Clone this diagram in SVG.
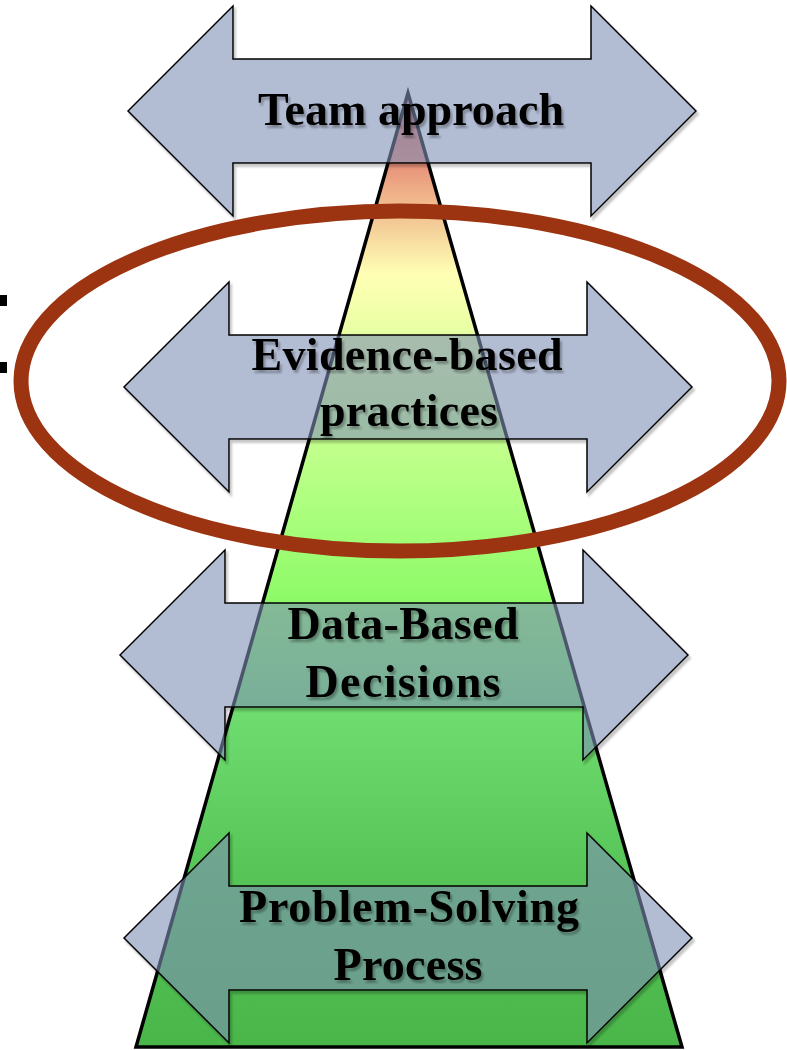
<svg xmlns="http://www.w3.org/2000/svg" xmlns:xlink="http://www.w3.org/1999/xlink" width="787" height="1050" viewBox="0 0 787 1050">
  <defs>
    <!-- pyramid fill: red tip through yellow into green -->
    <linearGradient id="pyramidFill" x1="0" y1="0" x2="0" y2="1">
      <stop offset="0" stop-color="#DC6A6A"/>
      <stop offset="0.077" stop-color="#E8937A"/>
      <stop offset="0.104" stop-color="#EFB088"/>
      <stop offset="0.14" stop-color="#F4CE98"/>
      <stop offset="0.166" stop-color="#FAE8A8"/>
      <stop offset="0.19" stop-color="#FFFFB4"/>
      <stop offset="0.25" stop-color="#E8FFA4"/>
      <stop offset="0.417" stop-color="#B2FF82"/>
      <stop offset="0.53" stop-color="#8EFA68"/>
      <stop offset="0.65" stop-color="#6EDC6E"/>
      <stop offset="0.82" stop-color="#56C456"/>
      <stop offset="1" stop-color="#4AB64A"/>
    </linearGradient>

    <!-- soft shadow that only shows outside the arrow body -->
    <filter id="arrowShadow" x="-3%" y="-3%" width="108%" height="110%" color-interpolation-filters="sRGB">
      <feComponentTransfer in="SourceAlpha" result="solid">
        <feFuncA type="linear" slope="20"/>
      </feComponentTransfer>
      <feOffset in="solid" dx="2" dy="3" result="off"/>
      <feGaussianBlur in="off" stdDeviation="1.2" result="blur"/>
      <feComposite in="blur" in2="solid" operator="out" result="ring"/>
      <feFlood flood-color="#000" flood-opacity="0.22"/>
      <feComposite in2="ring" operator="in" result="shadow"/>
      <feMerge>
        <feMergeNode in="shadow"/>
        <feMergeNode in="SourceGraphic"/>
      </feMerge>
    </filter>

    <filter id="textShadow" x="-5%" y="-20%" width="110%" height="150%">
      <feDropShadow dx="2" dy="3" stdDeviation="1" flood-color="#000" flood-opacity="0.3"/>
    </filter>

    <!-- double-headed block arrow, 568 x 210 -->
    <path id="blockArrow" d="M0,105 L105,0 L105,53 L463,53 L463,0 L568,105 L463,210 L463,157 L105,157 L105,210 Z"/>
  </defs>

  <style>
    .arrow { fill: #7F8FB5; fill-opacity: 0.6; stroke: #000; stroke-width: 1.5; stroke-linejoin: miter; filter: url(#arrowShadow); }
    .label { font-family: "Liberation Serif", "Times New Roman", serif; font-weight: bold; font-size: 46px; fill: #000; text-anchor: middle; filter: url(#textShadow); }
    .pyramid { fill: url(#pyramidFill); stroke: #000; stroke-width: 3.5; }
    .highlight { fill: none; stroke: #9C3412; stroke-width: 15; }
    .mark { fill: #000; }
  </style>

  <!-- pyramid -->
  <g id="pyramid">
    <polygon class="pyramid" points="408,93 136,1047 682,1047"/>
  </g>

  <!-- layers, top to bottom -->
  <g id="connectors">
    <g id="team-approach">
      <use xlink:href="#blockArrow" class="arrow" transform="translate(128,6)"/>
      <text class="label" x="411" y="125" textLength="306">Team approach</text>
    </g>
    <g id="evidence-based-practices">
      <use xlink:href="#blockArrow" class="arrow" transform="translate(124,282)"/>
      <text class="label" x="407" y="370" textLength="311">Evidence-based</text>
      <text class="label" x="409" y="426" textLength="178">practices</text>
    </g>
    <g id="data-based-decisions">
      <use xlink:href="#blockArrow" class="arrow" transform="translate(120,550)"/>
      <text class="label" x="403" y="639" textLength="231">Data-Based</text>
      <text class="label" x="403" y="697" textLength="195">Decisions</text>
    </g>
    <g id="problem-solving-process">
      <use xlink:href="#blockArrow" class="arrow" transform="translate(124,833)"/>
      <text class="label" x="409" y="922" textLength="340">Problem-Solving</text>
      <text class="label" x="408" y="980" textLength="149">Process</text>
    </g>
  </g>

  <!-- emphasis ring around the second layer -->
  <g id="highlight-ring">
    <ellipse class="highlight" cx="400" cy="381" rx="379" ry="170"/>
  </g>

  <!-- small marks on the left margin -->
  <g id="margin-marks">
    <rect class="mark" x="0" y="295" width="7" height="11"/>
    <rect class="mark" x="0" y="362" width="7" height="11"/>
  </g>
</svg>
